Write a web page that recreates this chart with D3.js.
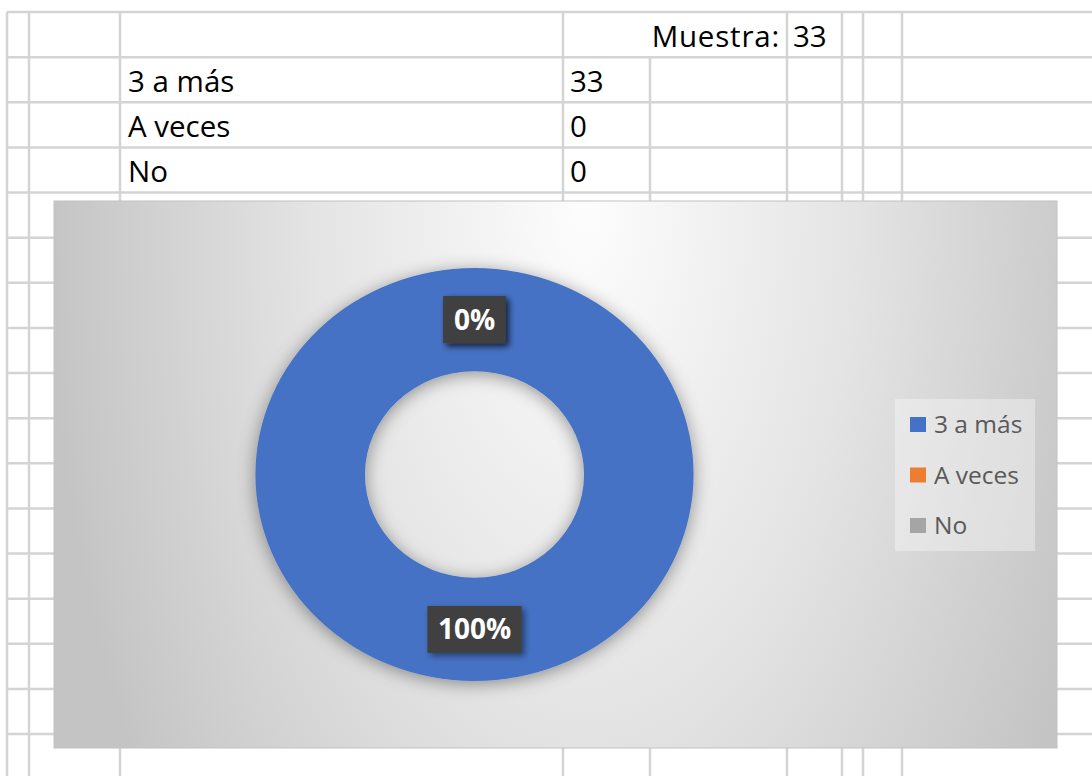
<!DOCTYPE html>
<html>
<head>
<meta charset="utf-8">
<script src="https://cdn.jsdelivr.net/npm/d3@7"></script>
<style>
  body { margin: 0; background: #fff; }
  svg { display: block; }
</style>
</head>
<body>
<div id="sheet"></div>
<script>
// table + chart values
const categories = ["3 a más", "A veces", "No"];
const values = [33, 0, 0];
const sampleLabel = "Muestra:";
const sampleSize = 33;
const colors = ["#4472c4", "#ed7d31", "#a5a5a5"];

const width = 1092, height = 776;

const svg = d3.select("#sheet")
  .append("svg")
    .attr("width", width)
    .attr("height", height);

const defs = svg.append("defs");

// background gradient of the chart area
const bg = defs.append("radialGradient")
    .attr("id", "bg")
    .attr("gradientUnits", "userSpaceOnUse")
    .attr("cx", 585).attr("cy", 205).attr("r", 540)
    .attr("gradientTransform", "translate(585,205) scale(1,1.9) translate(-585,-205)");
bg.append("stop").attr("offset", "0").attr("stop-color", "#fdfdfd");
bg.append("stop").attr("offset", "0.5").attr("stop-color", "#e4e4e4");
bg.append("stop").attr("offset", "1").attr("stop-color", "#c4c4c4");

const ringShadow = defs.append("filter")
    .attr("id", "ringShadow")
    .attr("x", "-20%").attr("y", "-20%").attr("width", "140%").attr("height", "140%");
ringShadow.append("feDropShadow")
    .attr("dx", 0).attr("dy", 3)
    .attr("stdDeviation", 9)
    .attr("flood-color", "#000")
    .attr("flood-opacity", 0.4);

const boxShadow = defs.append("filter")
    .attr("id", "boxShadow")
    .attr("x", "-30%").attr("y", "-30%").attr("width", "160%").attr("height", "160%");
boxShadow.append("feDropShadow")
    .attr("dx", 3).attr("dy", 3)
    .attr("stdDeviation", 3)
    .attr("flood-color", "#000")
    .attr("flood-opacity", 0.45);

// ---- spreadsheet grid ----
const gridColor = "#d4d4d4";
const colX = [7, 29, 120, 563, 650, 787, 842, 863, 902];
const rowY = d3.range(17).map(i => 12 + i * 45.13);

const grid = svg.append("g").attr("stroke", gridColor).attr("stroke-width", 2.5);

grid.selectAll(".hline")
  .data(rowY)
  .enter()
  .append("line")
    .attr("x1", 7).attr("x2", width)
    .attr("y1", d => d).attr("y2", d => d);

grid.selectAll(".vline")
  .data(colX)
  .enter()
  .append("line")
    .attr("x1", d => d).attr("x2", d => d)
    .attr("y1", d => d === 650 ? rowY[1] : rowY[0])  // merged "Muestra" cell
    .attr("y2", height);

// ---- table text ----
const font = "'Open Sans', sans-serif";
const table = svg.append("g")
    .style("font-family", font)
    .style("font-size", "29.5px")
    .attr("fill", "#000");

table.append("text")
    .attr("x", 780).attr("y", 47)
    .attr("text-anchor", "end")
    .style("letter-spacing", "0.8px")
    .text(sampleLabel);
table.append("text")
    .attr("x", 793).attr("y", 47)
    .text(sampleSize);

table.selectAll(".cat")
  .data(categories)
  .enter()
  .append("text")
    .attr("x", 128)
    .attr("y", (d, i) => rowY[1] + 35 + i * 45.13)
    .text(d => d);

table.selectAll(".val")
  .data(values)
  .enter()
  .append("text")
    .attr("x", 570)
    .attr("y", (d, i) => rowY[1] + 35 + i * 45.13)
    .text(d => d);

// ---- chart ----
const chart = {x: 54, y: 201, w: 1003, h: 547};

svg.append("rect")
    .attr("x", chart.x).attr("y", chart.y)
    .attr("width", chart.w).attr("height", chart.h)
    .attr("fill", "url(#bg)")
    .attr("stroke", "#c2c2c2")
    .attr("stroke-width", 1);

const cx = 474.5, cy = 474.5;
const outerR = 219, innerR = 109.5;
const squash = 206.5 / 219;   // the donut is drawn slightly flattened

const pie = d3.pie().sort(null).value(d => d.value);
const arcs = pie(categories.map((c, i) => ({name: c, value: values[i], color: colors[i]})));
const arc = d3.arc().innerRadius(innerR).outerRadius(outerR);

svg.append("g")
    .attr("transform", `translate(${cx},${cy}) scale(1,${squash})`)
    .attr("filter", "url(#ringShadow)")
  .selectAll("path")
  .data(arcs)
  .enter()
  .append("path")
    .attr("d", arc)
    .attr("fill", d => d.data.color);

// data labels
const total = d3.sum(values);
const pct = d3.format(".0%");

const labels = svg.append("g")
    .style("font-family", font)
    .style("font-size", "28px")
    .style("font-weight", "bold");

arcs.slice().reverse().forEach(d => {
  const [px, py] = arc.centroid(d);
  const g = labels.append("g")
      .attr("transform", `translate(${cx + px},${cy + py * squash})`);
  const txt = pct(d.data.value / total);
  const t = g.append("text")
      .attr("text-anchor", "middle")
      .attr("dy", "0.36em")
      .attr("fill", "#fff")
      .text(txt);
  const w = t.node().getComputedTextLength() + 21;
  g.insert("rect", "text")
      .attr("x", -w / 2).attr("y", -23.5)
      .attr("width", w).attr("height", 47)
      .attr("fill", "#404040")
      .attr("filter", "url(#boxShadow)");
});

// legend
const legend = svg.append("g")
    .attr("transform", "translate(895,399)");

legend.append("rect")
    .attr("width", 140).attr("height", 152)
    .attr("fill", "#fff")
    .attr("fill-opacity", 0.35);

const item = legend.selectAll(".item")
  .data(arcs)
  .enter()
  .append("g")
    .attr("transform", (d, i) => `translate(15,${18 + i * 50.5})`);

item.append("rect")
    .attr("width", 16).attr("height", 15)
    .attr("fill", d => d.data.color);

item.append("text")
    .attr("x", 24).attr("y", 16)
    .style("font-family", font)
    .style("font-size", "24.5px")
    .attr("fill", "#595959")
    .text(d => d.data.name);
</script>
</body>
</html>
